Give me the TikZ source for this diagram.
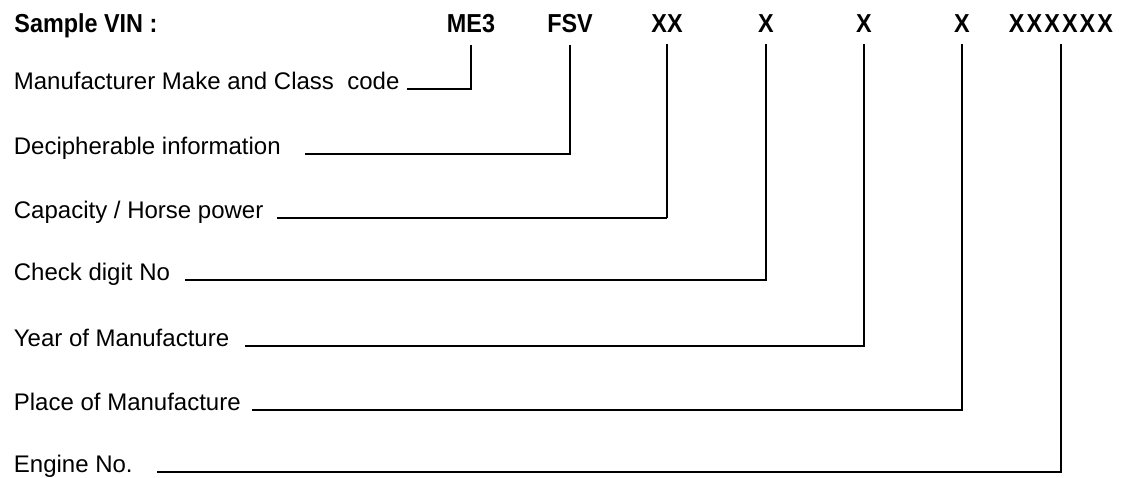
\documentclass[tikz,border=0pt]{standalone}
\usepackage{fontspec}
\setmainfont{Liberation Sans}
\newfontfamily\hdrfont[FakeStretch=0.9]{Liberation Sans}
\begin{document}
\begin{tikzpicture}[x=0.5pt,y=-0.5pt,
  lbl/.style={anchor=base west,inner sep=0pt,font=\fontsize{12pt}{13pt}\selectfont},
  code/.style={anchor=base,inner sep=0pt,font=\hdrfont\bfseries\fontsize{13pt}{13pt}\selectfont},
  conn/.style={line width=1pt},
  thinconn/.style={line width=0.6pt}]
\useasboundingbox (0,0) rectangle (1124,477);
\fill[white] (0,0) rectangle (1124,477);
% header
\node[code,anchor=base west] (title) at (14,32) {Sample VIN :};
\node[code] (c1) at (471,32) {ME3};
\node[code] (c2) at (570,32) {FSV};
\node[code] (c3) at (667,32) {XX};
\node[code] (c4) at (766,32) {X};
\node[code] (c5) at (864,32) {X};
\node[code] (c6) at (962,32) {X};
\node[code] (c7) at (1061,32) {\addfontfeatures{LetterSpace=8}XXXXXX};
% labels
\node[lbl] (l1) at (13.5,89)  {Manufacturer Make and Class\ \ code};
\node[lbl] (l2) at (13.5,154) {Decipherable information};
\node[lbl] (l3) at (13.5,218) {Capacity / Horse power};
\node[lbl] (l4) at (13.5,280) {Check digit No};
\node[lbl] (l5) at (13.5,346) {Year of Manufacture};
\node[lbl] (l6) at (13.5,410) {Place of Manufacture};
\node[lbl] (l7) at (13.5,472) {Engine No.};
% line starts
\coordinate (s1) at (407,89);
\coordinate (s2) at (305,154);
\coordinate (s3) at (277,218);
\coordinate (s4) at (185,280);
\coordinate (s5) at (245,346);
\coordinate (s6) at (252,410);
\coordinate (s7) at (157,472);
% connectors
\draw[conn] ([yshift=-6pt]c1.south) |- (s1);
\draw[conn] ([yshift=-6pt]c2.south) |- (s2);
\draw[thinconn] ([yshift=-6pt]c3.south) -- (c3.south |- s3);
\draw[conn] (c3.south |- s3) -- (s3);
\draw[conn] ([yshift=-6pt]c4.south) |- (s4);
\draw[conn] ([yshift=-6pt]c5.south) |- (s5);
\draw[conn] ([yshift=-6pt]c6.south) |- (s6);
\draw[conn] ([yshift=-6pt]c7.south) |- (s7);
\end{tikzpicture}
\end{document}
